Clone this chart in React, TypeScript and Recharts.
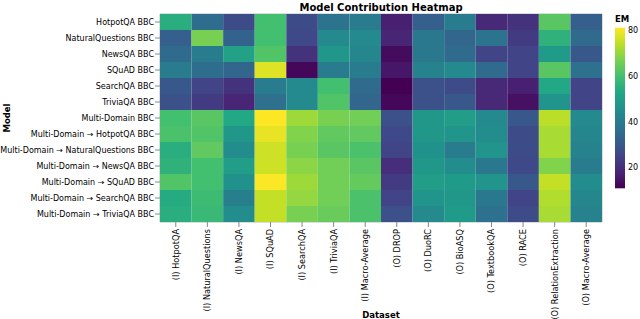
import { BarChart, Bar, Cell, XAxis, YAxis, ReferenceArea } from "recharts";

const models = [
  "HotpotQA BBC",
  "NaturalQuestions BBC",
  "NewsQA BBC",
  "SQuAD BBC",
  "SearchQA BBC",
  "TriviaQA BBC",
  "Multi-Domain BBC",
  "Multi-Domain → HotpotQA BBC",
  "Multi-Domain → NaturalQuestions BBC",
  "Multi-Domain → NewsQA BBC",
  "Multi-Domain → SQuAD BBC",
  "Multi-Domain → SearchQA BBC",
  "Multi-Domain → TriviaQA BBC",
];

const datasets = [
  "(I) HotpotQA",
  "(I) NaturalQuestions",
  "(I) NewsQA",
  "(I) SQuAD",
  "(I) SearchQA",
  "(I) TriviaQA",
  "(I) Macro-Average",
  "(O) DROP",
  "(O) DuoRC",
  "(O) BioASQ",
  "(O) TextbookQA",
  "(O) RACE",
  "(O) RelationExtraction",
  "(O) Macro-Average",
];

// EM per model, in the order of `datasets`
const emHotpotQA = [55, 36, 27, 60, 27, 38, 40, 17, 32, 40, 19, 21, 63, 32];
const emNaturalQuestions = [32, 67, 33, 60, 26, 44, 44, 18, 39, 34, 38, 23, 56, 35];
const emNewsQA = [35, 40, 51, 62, 21, 48, 43, 13, 39, 35, 25, 25, 49, 30];
const emSQuAD = [40, 36, 34, 78, 12, 40, 40, 15, 42, 44, 35, 25, 63, 37];
const emSearchQA = [30, 25, 21, 40, 44, 60, 35, 10.8, 28, 27, 19, 17, 53, 25];
const emTriviaQA = [28, 23, 18, 37, 44, 62, 34, 12, 28, 30, 19, 14, 47, 25];
const emMultiDomain = [60, 63, 53, 81.3, 71, 67, 66, 28, 48, 50, 44, 30, 74, 44];
const emMdHotpotQA = [61, 62, 48, 79, 68, 64, 64, 26, 48, 47, 45, 27, 72, 43];
const emMdNaturalQuestions = [55, 64, 45, 76, 67, 63, 61, 25, 46, 40, 47, 27, 72, 42];
const emMdNewsQA = [56, 60, 50, 76, 69, 66, 63, 20, 48, 45, 39, 26, 68, 40];
const emMdSQuAD = [62, 60, 46, 81, 71, 66, 64.5, 23, 50, 49, 47, 30, 75, 45];
const emMdSearchQA = [54, 59, 41, 75, 70, 66, 61, 25, 47, 48, 39, 25, 73, 43];
const emMdTriviaQA = [55, 58, 45, 75, 67, 65, 61, 28, 44, 49, 37, 27, 72, 42];

const emRows = [
  emHotpotQA,
  emNaturalQuestions,
  emNewsQA,
  emSQuAD,
  emSearchQA,
  emTriviaQA,
  emMultiDomain,
  emMdHotpotQA,
  emMdNaturalQuestions,
  emMdNewsQA,
  emMdSQuAD,
  emMdSearchQA,
  emMdTriviaQA,
];

const legendTicks = [20, 40, 60, 80];

const viridis = [
  "#440154", "#482475", "#414487", "#355f8d", "#2a788e", "#21918c",
  "#22a884", "#44bf70", "#7ad151", "#bddf26", "#fde725",
];

const allEm = emRows.flat();
const emMin = Math.min(...allEm);
const emMax = Math.max(...allEm);

function hexToRgb(h: string) {
  return [1, 3, 5].map((i) => parseInt(h.slice(i, i + 2), 16));
}

function viridisColor(v: number) {
  const t = Math.max(0, Math.min(1, (v - emMin) / (emMax - emMin)));
  const pos = t * (viridis.length - 1);
  const i = Math.min(viridis.length - 2, Math.floor(pos));
  const f = pos - i;
  const a = hexToRgb(viridis[i]);
  const b = hexToRgb(viridis[i + 1]);
  const c = a.map((av, k) => Math.round(av + (b[k] - av) * f));
  return `rgb(${c[0]},${c[1]},${c[2]})`;
}

// one unit-wide block per dataset, stacked across each model row
const tableData = models.map((model) => {
  const row: Record<string, string | number> = { model };
  datasets.forEach((_, j) => {
    row[`d${j}`] = 1;
  });
  return row;
});

const FONT = "DejaVu Sans, sans-serif";

function DatasetTick({ x, y, payload }: any) {
  const label = datasets[Math.floor(payload.value)];
  return (
    <text
      transform={`translate(${x + 2.9},${y}) rotate(-90)`}
      textAnchor="end"
      fontSize={8.2}
      fontFamily={FONT}
      fill="#000"
    >
      {label}
    </text>
  );
}

function ModelTick({ x, y, payload }: any) {
  return (
    <text x={x} y={y} dy="0.35em" textAnchor="end" fontSize={8} fontFamily={FONT} fill="#000">
      {payload.value}
    </text>
  );
}

const legendTop = 27.7;
const legendHeight = 160.6;

export default function App() {
  return (
    <div style={{ position: "absolute", left: 0, top: 0, width: 640, height: 319, background: "#fff" }}>
      <BarChart
        width={640}
        height={319}
        data={tableData}
        layout="vertical"
        margin={{ top: 14, right: 38, bottom: 0, left: 0 }}
        barCategoryGap={0}
        barGap={0}
      >
        <XAxis
          type="number"
          domain={[0, datasets.length]}
          ticks={datasets.map((_, j) => j + 0.5)}
          interval={0}
          height={97}
          tickSize={5}
          tickLine={{ stroke: "#888" }}
          axisLine={false}
          tick={<DatasetTick />}
        />
        <YAxis
          type="category"
          dataKey="model"
          width={160}
          interval={0}
          tickSize={5}
          tickMargin={1}
          tickLine={{ stroke: "#888" }}
          axisLine={false}
          tick={<ModelTick />}
        />
        {datasets.map((_, j) => (
          <Bar key={j} dataKey={`d${j}`} stackId="em" isAnimationActive={false}>
            {models.map((_, i) => (
              <Cell key={i} fill={viridisColor(emRows[i][j])} />
            ))}
          </Bar>
        ))}
        <ReferenceArea x1={0} x2={datasets.length} fill="none" stroke="#bbb" strokeWidth={1} ifOverflow="visible" />
      </BarChart>

      <svg
        width={640}
        height={319}
        style={{ position: "absolute", left: 0, top: 0, pointerEvents: "none" }}
      >
        <defs>
          <linearGradient id="emGrad" x1="0" y1="1" x2="0" y2="0">
            {viridis.map((c, i) => (
              <stop key={i} offset={i / (viridis.length - 1)} stopColor={c} />
            ))}
          </linearGradient>
        </defs>
        <text x={381} y={10.5} textAnchor="middle" fontSize={10} fontWeight="bold" fontFamily={FONT} fill="#000">
          Model Contribution Heatmap
        </text>
        <text transform="translate(10,118) rotate(-90)" textAnchor="middle" fontSize={8.5} fontWeight="bold" fontFamily={FONT} fill="#000">
          Model
        </text>
        <text x={381} y={318} textAnchor="middle" fontSize={8.5} fontWeight="bold" fontFamily={FONT} fill="#000">
          Dataset
        </text>
        <text x={615} y={22} fontSize={8.5} fontWeight="bold" fontFamily={FONT} fill="#000">
          EM
        </text>
        <rect x={615} y={legendTop} width={10} height={legendHeight} fill="url(#emGrad)" />
        {legendTicks.map((t) => (
          <text
            key={t}
            x={628}
            y={legendTop + ((emMax - t) / (emMax - emMin)) * legendHeight}
            dy="0.35em"
            fontSize={8}
            fontFamily={FONT}
            fill="#000"
          >
            {t}
          </text>
        ))}
      </svg>
    </div>
  );
}
